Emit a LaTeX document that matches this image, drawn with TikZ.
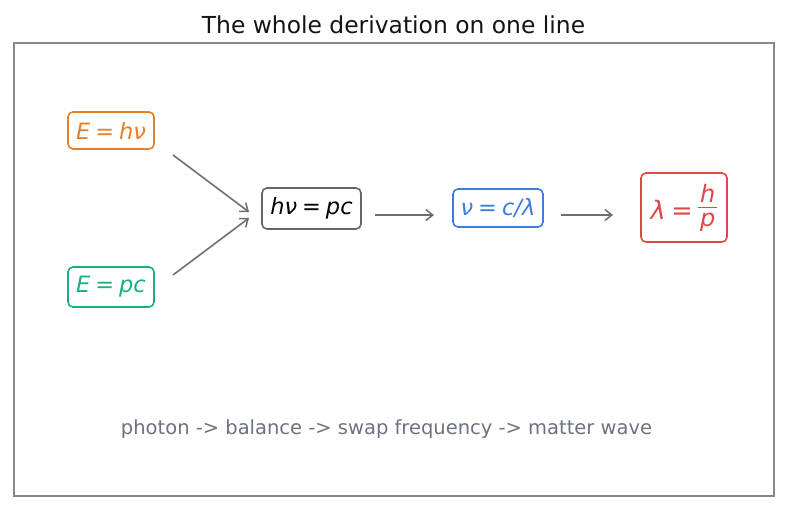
\documentclass[tikz,border=0pt]{standalone}
\usepackage{fontspec}
\setmainfont{DejaVu Sans}
\usetikzlibrary{arrows.meta}
\definecolor{corange}{HTML}{E87E26}
\definecolor{cgreen}{HTML}{1BAF88}
\definecolor{cblue}{HTML}{3B7DDD}
\definecolor{cred}{HTML}{E04848}
\definecolor{cbox}{HTML}{666666}
\definecolor{cframe}{HTML}{888888}
\definecolor{carrow}{HTML}{6E6E72}
\definecolor{cnote}{HTML}{6B7280}
\newcommand{\eqsp}{\hspace{0.22em}=\hspace{0.22em}}
\newcommand{\eqfont}{\fontsize{22.5}{27}\selectfont\itshape}
\newcommand{\bigeqfont}{\fontsize{25.5}{30}\selectfont\itshape}
\newcommand{\stackfrac}[2]{\raisebox{6pt}{$\vcenter{\offinterlineskip\halign{\hfil##\hfil\cr \hspace{2pt}#1\hspace{2pt}\cr\noalign{\kern4.5pt\hrule height 1.5pt\kern4.5pt}\hspace{2pt}#2\hspace{2pt}\cr}}$}}
\begin{document}
\begin{tikzpicture}[x=1pt,y=-1pt,
  eqbox/.style={draw, rounded corners=5pt, line width=1.6pt, fill=white,
    inner xsep=5pt, inner ysep=4pt, font=\eqfont},
  conn/.style={draw=carrow, line width=1.6pt, -{Straight Barb[length=7pt,width=11pt,line width=1.5pt]}}]
\useasboundingbox (0,0) rectangle (787,510);
\node[font=\fontsize{23.4}{28}\selectfont, text=black!92] (title) at (393.5,25) {The whole derivation on one line};
\draw[cframe, line width=1.5pt] (14,43) rectangle (774,496);
\node[eqbox, draw=corange, text=corange, minimum width=86pt, minimum height=37pt] (e1) at (111,130.5) {E\eqsp hν};
\node[eqbox, draw=cgreen, text=cgreen, minimum width=86pt, minimum height=40pt] (e2) at (111,287) {E\eqsp pc};
\node[eqbox, draw=cbox, text=black, minimum width=99pt, minimum height=41pt] (e3) at (311.5,208.5) {hν\eqsp pc};
\node[eqbox, draw=cblue, text=cblue, minimum width=90pt, minimum height=38pt] (e4) at (498,208) {ν\eqsp c/λ};
\node[eqbox, draw=cred, text=cred, font=\bigeqfont, inner xsep=3pt, minimum width=86pt, minimum height=69pt] (e5) at (684,207.5) {λ\eqsp\stackfrac{\fontsize{24}{28}\selectfont\itshape h}{\fontsize{24}{28}\selectfont\itshape p}};
\coordinate (a1s) at (173,155);
\coordinate (a1e) at (249,212);
\coordinate (a2s) at (173,275);
\coordinate (a2e) at (249,218);
\coordinate (a3s) at (375,215);
\coordinate (a3e) at (434,215);
\coordinate (a4s) at (561,215);
\coordinate (a4e) at (613,215);
\draw[conn] (a1s) -- (a1e);
\draw[conn] (a2s) -- (a2e);
\draw[conn] (a3s) -- (a3e);
\draw[conn] (a4s) -- (a4e);
\node[font=\fontsize{19.5}{23}\selectfont, text=cnote] (note) at (386.5,429) {photon -> balance -> swap frequency -> matter wave};
\end{tikzpicture}
\end{document}
